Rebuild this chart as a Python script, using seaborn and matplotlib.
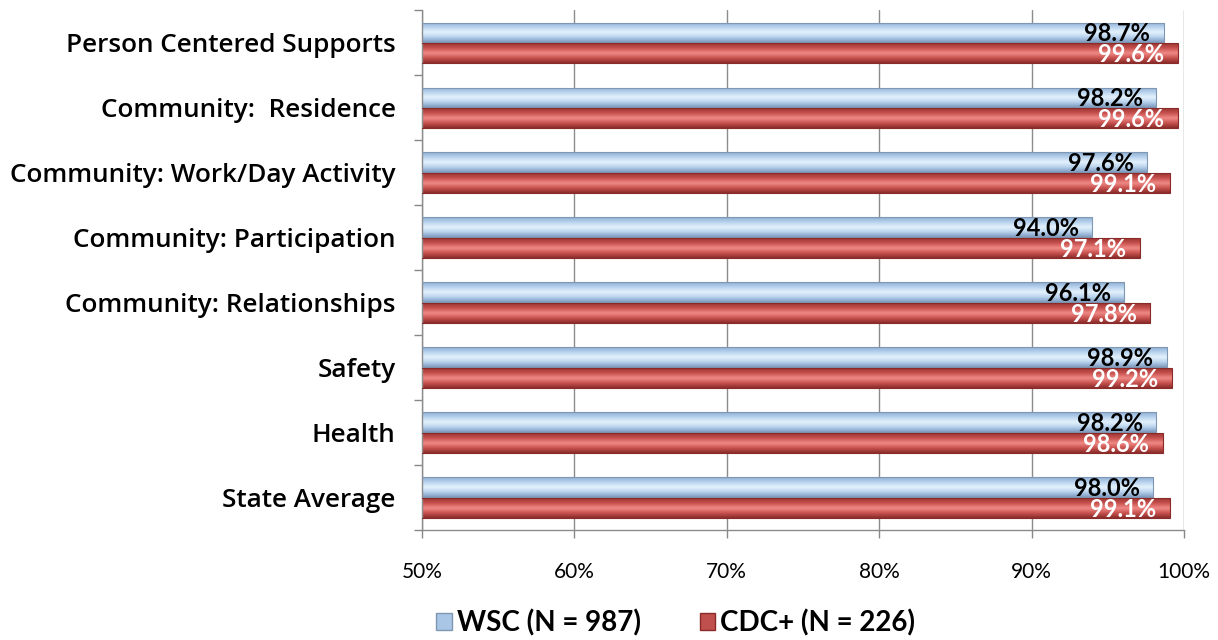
import numpy as np
import pandas as pd
import matplotlib
matplotlib.use("Agg")
import matplotlib.pyplot as plt
from matplotlib.colors import LinearSegmentedColormap
from matplotlib.patches import Rectangle
import seaborn as sns

categories = [
    "Person Centered Supports",
    "Community:  Residence",
    "Community: Work/Day Activity",
    "Community: Participation",
    "Community: Relationships",
    "Safety",
    "Health",
    "State Average",
]
wsc_values = [98.7, 98.2, 97.6, 94.0, 96.1, 98.9, 98.2, 98.0]
cdc_values = [99.6, 99.6, 99.1, 97.1, 97.8, 99.2, 98.6, 99.1]
series_names = ["WSC (N = 987)", "CDC+ (N = 226)"]
x_ticks = [50, 60, 70, 80, 90, 100]

df = pd.DataFrame({
    "category": categories * 2,
    "value": wsc_values + cdc_values,
    "group": [series_names[0]] * len(categories) + [series_names[1]] * len(categories),
})

sns.set_theme(style="white")
plt.rcParams["font.family"] = ["Lato", "DejaVu Sans"]
plt.rcParams["text.color"] = "black"
plt.rcParams["xtick.labelcolor"] = "black"
plt.rcParams["ytick.labelcolor"] = "black"

fig = plt.figure(figsize=(12.18, 6.40), dpi=100)
ax = fig.add_axes([0.3465, 0.172, 0.6255, 0.812])

palette = {series_names[0]: "#a9c6e6", series_names[1]: "#c0504d"}
edge = {series_names[0]: "#7f97b2", series_names[1]: "#8a2b29"}
sns.barplot(data=df, y="category", x="value", hue="group", order=categories,
            hue_order=series_names, palette=palette, orient="h", width=0.64,
            gap=0.06, ax=ax, legend=False, zorder=3)

# glossy gradients for each series
grad = {
    series_names[0]: LinearSegmentedColormap.from_list(
        "b", ["#7f9cc0", "#b9d3ee", "#e4f2fc", "#b9d3ee", "#8eaed3"]),
    series_names[1]: LinearSegmentedColormap.from_list(
        "r", ["#8a2d2b", "#c8524f", "#f08a87", "#c8524f", "#9b3532"]),
}
ax.set_xlim(50, 100)
ax.set_ylim(len(categories) - 0.5, -0.5)

n = len(categories)
patches = [p for p in ax.patches]
gvals = np.linspace(0, 1, 64).reshape(-1, 1)
for i, p in enumerate(patches):
    name = series_names[i // n]
    p.set_facecolor("none")
    p.set_edgecolor(edge[name])
    p.set_linewidth(0.8)
    x0, y0 = p.get_x(), p.get_y()
    w, h = p.get_width(), p.get_height()
    x_start = max(x0, 50)
    im = ax.imshow(gvals, cmap=grad[name], aspect="auto",
                   extent=[x_start, x0 + w, y0, y0 + h], zorder=2.5,
                   interpolation="bicubic")
    im.set_clip_path(p)
    val = wsc_values[i % n] if i < n else cdc_values[i % n]
    ax.text(x0 + w - 0.9, y0 + h / 2 + 0.02, f"{val:.1f}%",
            ha="right", va="center", fontsize=17, fontweight="bold",
            color="black" if i < n else "white", zorder=5)

ax.set_xlim(50, 100)
ax.set_ylim(len(categories) - 0.5, -0.5)
ax.set_aspect("auto")

ax.set_xticks(x_ticks)
ax.set_xticklabels([f"{t}%" for t in x_ticks], fontsize=15, color="black")
ax.set_yticks(np.arange(n))
ax.set_yticklabels(categories, fontsize=18.8, fontweight=600, color="black",
                   family=["Open Sans", "DejaVu Sans"])
ax.tick_params(axis="y", length=0, pad=19)
ax.tick_params(axis="x", length=6, width=1, color="#888888", direction="out",
               bottom=True, pad=17)
# minor ticks between categories on the value axis
ax.set_yticks(np.arange(-0.5, n, 1.0), minor=True)
ax.tick_params(axis="y", which="minor", length=6, width=1, color="#888888",
               left=True)
ax.set_xlabel("")
ax.set_ylabel("")

ax.grid(axis="x", color="#8c8c8c", linewidth=1, zorder=0)
ax.set_axisbelow(True)
for s in ["top", "right"]:
    ax.spines[s].set_visible(False)
for s in ["left", "bottom"]:
    ax.spines[s].set_color("#8c8c8c")
    ax.spines[s].set_linewidth(1)

# legend
handles = [Rectangle((0, 0), 1, 1, facecolor=palette[s], edgecolor=edge[s])
           for s in series_names]
leg = fig.legend(handles, series_names, loc="center", bbox_to_anchor=(0.555, 0.027),
                 ncol=2, frameon=False, prop={"size": 20, "weight": "bold"},
                 handlelength=0.55, handleheight=0.55, columnspacing=2.1,
                 handletextpad=0.2, labelcolor="black")

fig.savefig("out.png", dpi=100)
